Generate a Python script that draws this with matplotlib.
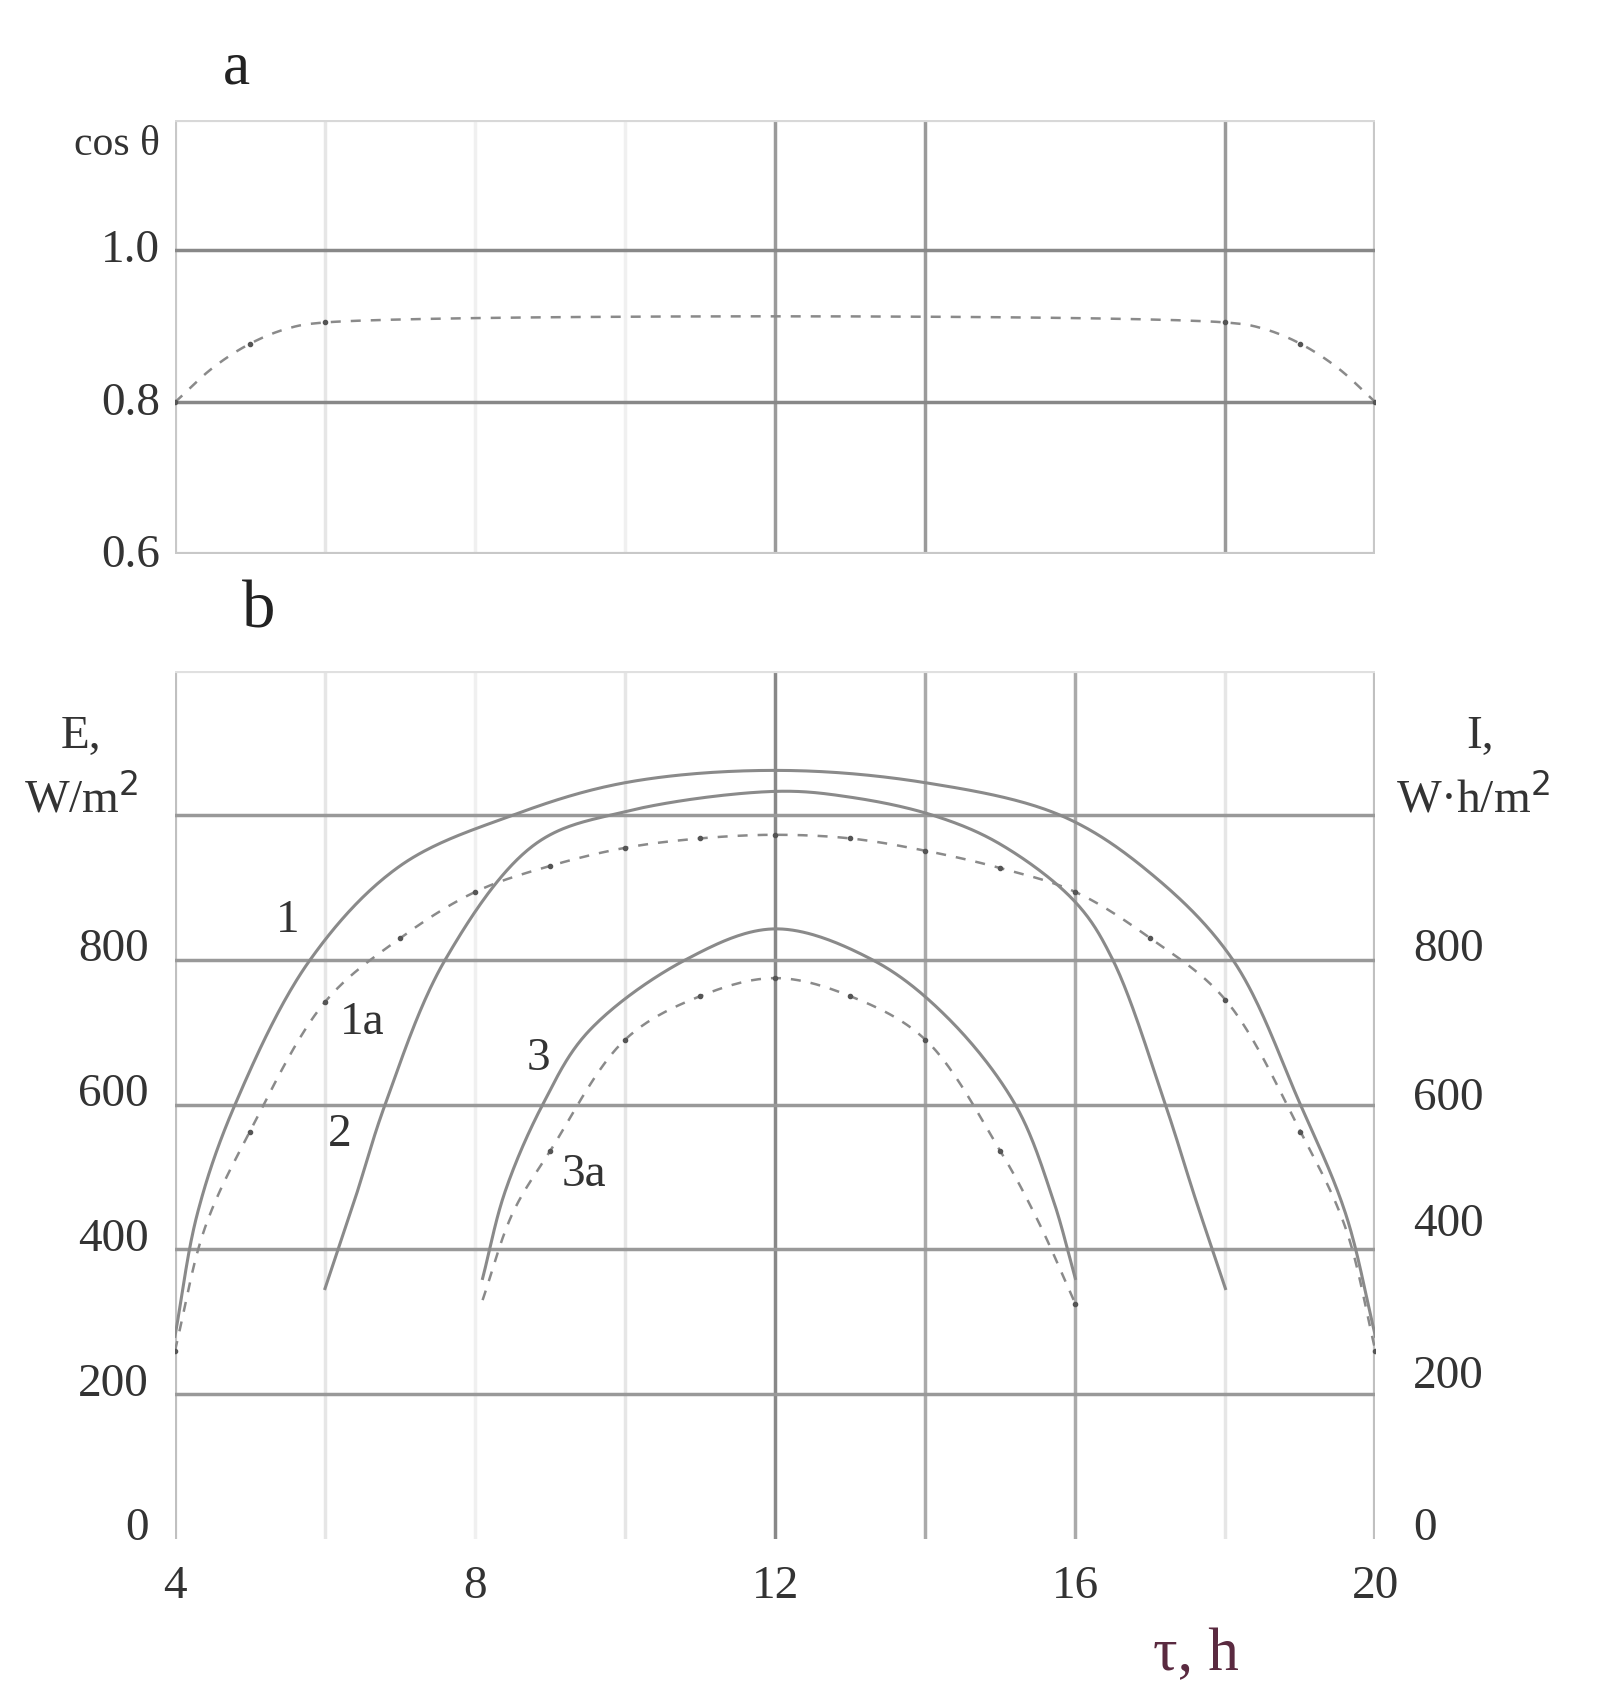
import numpy as np
import matplotlib.pyplot as plt

plt.rcParams['font.family'] = ['Liberation Serif', 'DejaVu Serif']

# ---- data: panel a ----
cos_x = [4, 4.5, 5, 5.5, 6, 18, 18.5, 19, 19.5, 20]
cos_y = [0.80, 0.845, 0.877, 0.897, 0.905, 0.905, 0.897, 0.877, 0.845, 0.80]
cos_dots_x = [4, 5, 6, 18, 19, 20]
cos_dots_y = [0.80, 0.877, 0.905, 0.905, 0.877, 0.80]

# ---- data: panel b ----
c1_x = [4, 4.3, 4.8, 5.8, 7, 8.5, 10, 12, 14, 15.8, 17, 18.1, 19, 19.6, 20]
c1_y = [280, 450, 600, 800, 930, 1000, 1045, 1062, 1045, 1000, 920, 800, 600, 450, 280]
c1a_x = [4, 4.4, 5, 6, 7, 8, 9, 10, 11, 12, 13, 14, 15, 16, 17, 18, 19, 19.6, 20]
c1a_y = [260, 430, 563, 742, 830, 894, 930, 955, 968, 973, 968, 951, 927, 894, 830, 745, 563, 430, 260]
c2_x = [6, 6.4, 6.8, 7.6, 8.8, 10, 12, 13, 14.1, 15, 16, 16.5, 17.2, 17.6, 18]
c2_y = [346, 470, 600, 800, 960, 1005, 1033, 1025, 1000, 960, 880, 800, 600, 470, 346]
c3_x = [8.1, 8.4, 8.9, 9.5, 10.8, 12, 13.3, 14.3, 15.2, 15.7, 16]
c3_y = [360, 480, 600, 700, 800, 843, 800, 720, 600, 470, 360]
c3a_x = [8.1, 8.5, 9, 10, 11, 12, 13, 14, 15, 15.5, 16]
c3a_y = [330, 450, 536, 690, 750, 775, 750, 690, 536, 440, 325]

left_ticks = [0, 200, 400, 600, 800]
right_ticks = [0, 200, 400, 600, 800]
right_pos = [15, 226, 435, 610, 816]
x_ticks = [4, 8, 12, 16, 20]


def smooth(x, y, sx=1.0, sy=1.0, n=40):
    # centripetal Catmull-Rom through the read points (scaled to screen units)
    p = np.column_stack([np.asarray(x, float) * sx, np.asarray(y, float) * sy])
    p = np.vstack([2 * p[0] - p[1], p, 2 * p[-1] - p[-2]])
    out = []
    for i in range(1, len(p) - 2):
        p0, p1, p2, p3 = p[i - 1], p[i], p[i + 1], p[i + 2]
        t0 = 0
        t1 = t0 + np.linalg.norm(p1 - p0) ** 0.5
        t2 = t1 + np.linalg.norm(p2 - p1) ** 0.5
        t3 = t2 + np.linalg.norm(p3 - p2) ** 0.5
        t = np.linspace(t1, t2, n)[:, None]
        a1 = (t1 - t) / (t1 - t0) * p0 + (t - t0) / (t1 - t0) * p1
        a2 = (t2 - t) / (t2 - t1) * p1 + (t - t1) / (t2 - t1) * p2
        a3 = (t3 - t) / (t3 - t2) * p2 + (t - t2) / (t3 - t2) * p3
        b1 = (t2 - t) / (t2 - t0) * a1 + (t - t0) / (t2 - t0) * a2
        b2 = (t3 - t) / (t3 - t1) * a2 + (t - t1) / (t3 - t1) * a3
        c = (t2 - t) / (t2 - t1) * b1 + (t - t1) / (t2 - t1) * b2
        out.append(c)
    out = np.vstack(out)
    return out[:, 0] / sx, out[:, 1] / sy


fig = plt.figure(figsize=(16.05, 16.83), dpi=100)
fs = 34
grey = '#9a9a9a'
light = '#e6e6e6'

# ---------- panel a ----------
ax = fig.add_axes([0.109, 0.670, 0.748, 0.258])
ax.set_xlim(4, 20)
ax.set_ylim(0.6, 1.171)
ax.axis('off')
for xv, c in [(6, light), (8, '#f0f0f0'), (10, '#f0f0f0'), (12, grey), (14, grey), (18, grey)]:
    ax.axvline(xv, color=c, lw=2.5)
for xv in [4, 20]:
    ax.axvline(xv, color='#c8c8c8', lw=3)
ax.axhline(1.0, color='#888888', lw=2.5)
ax.axhline(0.8, color='#888888', lw=2.5)
ax.axhline(0.6, color='#c8c8c8', lw=3)
ax.axhline(1.171, color='#d8d8d8', lw=3)
sx_, sy_ = smooth(cos_x, cos_y, sx=75, sy=705)
ax.plot(sx_, sy_, ls=(0, (4, 4)), color='#8a8a8a', lw=1.8)
ax.plot(cos_dots_x, cos_dots_y, 'o', color='#555555', ms=3)
for v, s in [(1.0, '1.0'), (0.8, '0.8'), (0.6, '0.6')]:
    ax.text(3.8, v, s, ha='right', va='center', fontsize=fs, color='#333333', clip_on=False)
ax.text(3.8, 1.14, 'cos θ', ha='right', va='center', fontsize=30, color='#333333', clip_on=False)
ax.text(0.04, 1.12, 'a', transform=ax.transAxes, fontsize=44, color='#222222', ha='left', va='center')

# ---------- panel b ----------
bx = fig.add_axes([0.109, 0.085, 0.748, 0.516])
bx.set_xlim(4, 20)
bx.set_ylim(0, 1200)
bx.axis('off')
for xv, c in [(6, light), (8, '#f0f0f0'), (10, light), (12, '#888888'), (14, '#aaaaaa'), (16, '#aaaaaa'), (18, light)]:
    bx.axvline(xv, color=c, lw=2.5)
for xv in [4, 20]:
    bx.axvline(xv, color='#c0c0c0', lw=3)
for yv in [200, 400, 600, 800, 1000]:
    bx.axhline(yv, color='#999999', lw=2.5)
bx.axhline(1200, color='#e0e0e0', lw=3)

solid = dict(color='#8a8a8a', lw=2.2)
dashed = dict(color='#8a8a8a', lw=1.8, ls=(0, (4, 4)))
for xs, ys in [(c1_x, c1_y), (c2_x, c2_y), (c3_x, c3_y)]:
    px, py = smooth(xs, ys, sx=75, sy=0.72)
    bx.plot(px, py, **solid)
for xs, ys in [(c1a_x, c1a_y), (c3a_x, c3a_y)]:
    px, py = smooth(xs, ys, sx=75, sy=0.72)
    bx.plot(px, py, **dashed)
    dx = [a for a in xs if float(a).is_integer()]
    dy = [b for a, b in zip(xs, ys) if float(a).is_integer()]
    bx.plot(dx, dy, 'o', color='#555555', ms=3)

for v in left_ticks:
    bx.text(3.65, v + 15, str(v), ha='right', va='center', fontsize=fs, color='#333333', clip_on=False)
for v, p in zip(right_ticks, right_pos):
    bx.text(20.5, p, str(v), ha='left', va='center', fontsize=fs, color='#333333', clip_on=False)
for v in x_ticks:
    bx.text(v, -65, str(v), ha='center', va='center', fontsize=fs, color='#333333', clip_on=False)

bx.text(2.75, 1110, 'E,', ha='center', va='center', fontsize=fs, color='#333333', clip_on=False)
bx.text(2.75, 1025, 'W/m$^2$', ha='center', va='center', fontsize=fs, color='#333333', clip_on=False)
bx.text(21.4, 1110, 'I,', ha='center', va='center', fontsize=fs, color='#333333', clip_on=False)
bx.text(21.3, 1025, 'W·h/m$^2$', ha='center', va='center', fontsize=fs, color='#333333', clip_on=False)
bx.text(0.07, 1.07, 'b', transform=bx.transAxes, fontsize=48, color='#222222', ha='center', va='center')
bx.text(17.6, -160, 'τ, h', ha='center', va='center', fontsize=44, color='#5a2a40', clip_on=False)

# curve numbers
for x, y, s in [(5.5, 855, '1'), (6.5, 715, '1a'), (6.2, 560, '2'), (8.85, 665, '3'), (9.45, 505, '3a')]:
    bx.text(x, y, s, ha='center', va='center', fontsize=fs, color='#333333')

fig.savefig('out.png', dpi=100)
